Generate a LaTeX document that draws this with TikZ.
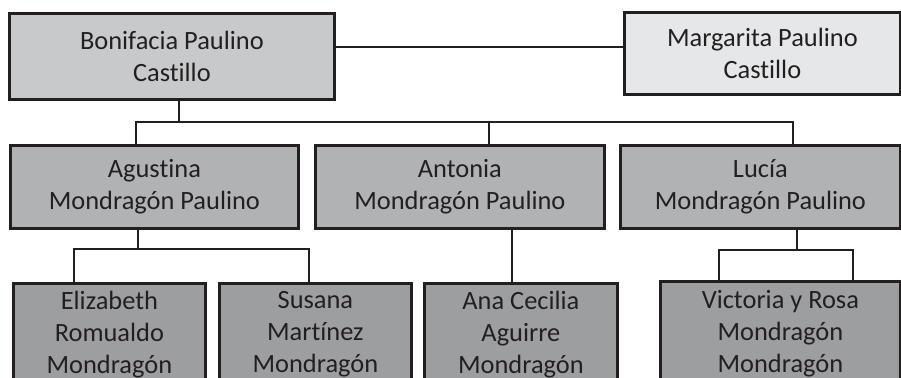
\documentclass[tikz,border=0pt]{standalone}
\usepackage{fontspec}
\setmainfont{Carlito}[Ligatures=NoCommon]
\usepackage{xcolor}
\usetikzlibrary{positioning}
\definecolor{parentgray}{HTML}{C8C9CB}
\definecolor{spousegray}{HTML}{E6E7E8}
\definecolor{childgray}{HTML}{B1B2B4}
\definecolor{grandgray}{HTML}{9D9EA0}
\definecolor{inkgray}{HTML}{231F20}

\begin{document}
\begin{tikzpicture}[x=0.5pt, y=-0.5pt,
	every node/.style={rectangle, draw=inkgray, line width=1.4pt, anchor=north west,
		inner sep=0pt, align=center, text=inkgray, font=\fontsize{13.2}{16}\selectfont},
	parent/.style={fill=parentgray},
	spouse/.style={fill=spousegray},
	child/.style={fill=childgray, minimum height=41.5pt},
	grand/.style={fill=grandgray, minimum height=51pt, minimum width=96pt},
	link/.style={draw=inkgray, line width=1.4pt}]
			\useasboundingbox (0,0) rectangle (901,377);
			\clip (0,0) rectangle (901,377);
			% First generation
			\node[parent, minimum width=162.5pt, minimum height=43pt] (bon) at (8,12) {Bonifacia Paulino\\Castillo};
			\node[spouse, minimum width=138pt, minimum height=41pt] (mar) at (623,11) {Margarita Paulino\\Castillo};
			% Daughters
			\node[child, minimum width=144pt] (agu) at (9,144) {Agustina\\Mondrag\'on Paulino};
			\node[child, minimum width=144.5pt] (ant) at (314,144) {Antonia\\Mondrag\'on Paulino};
			\node[child, minimum width=140pt] (luc) at (619,144) {Luc\'ia\\Mondrag\'on Paulino};
			% Grandchildren
			\node[grand] (eli) at (12,282) {Elizabeth\\Romualdo\\Mondrag\'on};
			\node[grand] (sus) at (218,282) {Susana\\Mart\'inez\\Mondrag\'on};
			\node[grand, minimum width=96.5pt] (ana) at (423,282) {Ana Cecilia\\Aguirre\\Mondrag\'on};
			\node[grand, minimum width=120pt, minimum height=52pt] (vic) at (659,280) {Victoria y Rosa\\Mondrag\'on\\Mondrag\'on};
			
			% Junctions
			\coordinate (bm) at (0,47);
			\coordinate (jtop) at (179,122);
			\coordinate (dagu) at (136,122);
			\coordinate (dant) at (489,122);
			\coordinate (dluc) at (793,122);
			\coordinate (jagu) at (138,249);
			\coordinate (deli) at (74,249);
			\coordinate (dsus) at (309,249);
			\coordinate (dana) at (512,249);
			\coordinate (jluc) at (797,250);
			\coordinate (dvl) at (719,250);
			\coordinate (dvr) at (853,250);
			
			% Connectors
			\draw[link] (bon.east |- bm) -- (mar.west |- bm);
			\draw[link] (bon.south -| jtop) -- (jtop);
			\draw[link] (dagu |- agu.north) -- (dagu) -- (dluc) -- (dluc |- luc.north);
			\draw[link] (dant) -- (dant |- ant.north);
			\draw[link] (agu.south -| jagu) -- (jagu);
			\draw[link] (deli |- eli.north) -- (deli) -- (dsus) -- (dsus |- sus.north);
			\draw[link] (ant.south -| dana) -- (dana |- ana.north);
			\draw[link] (luc.south -| jluc) -- (jluc);
			\draw[link] (dvl |- vic.north) -- (dvl) -- (dvr) -- (dvr |- vic.north);
		\end{tikzpicture}
\end{document}
